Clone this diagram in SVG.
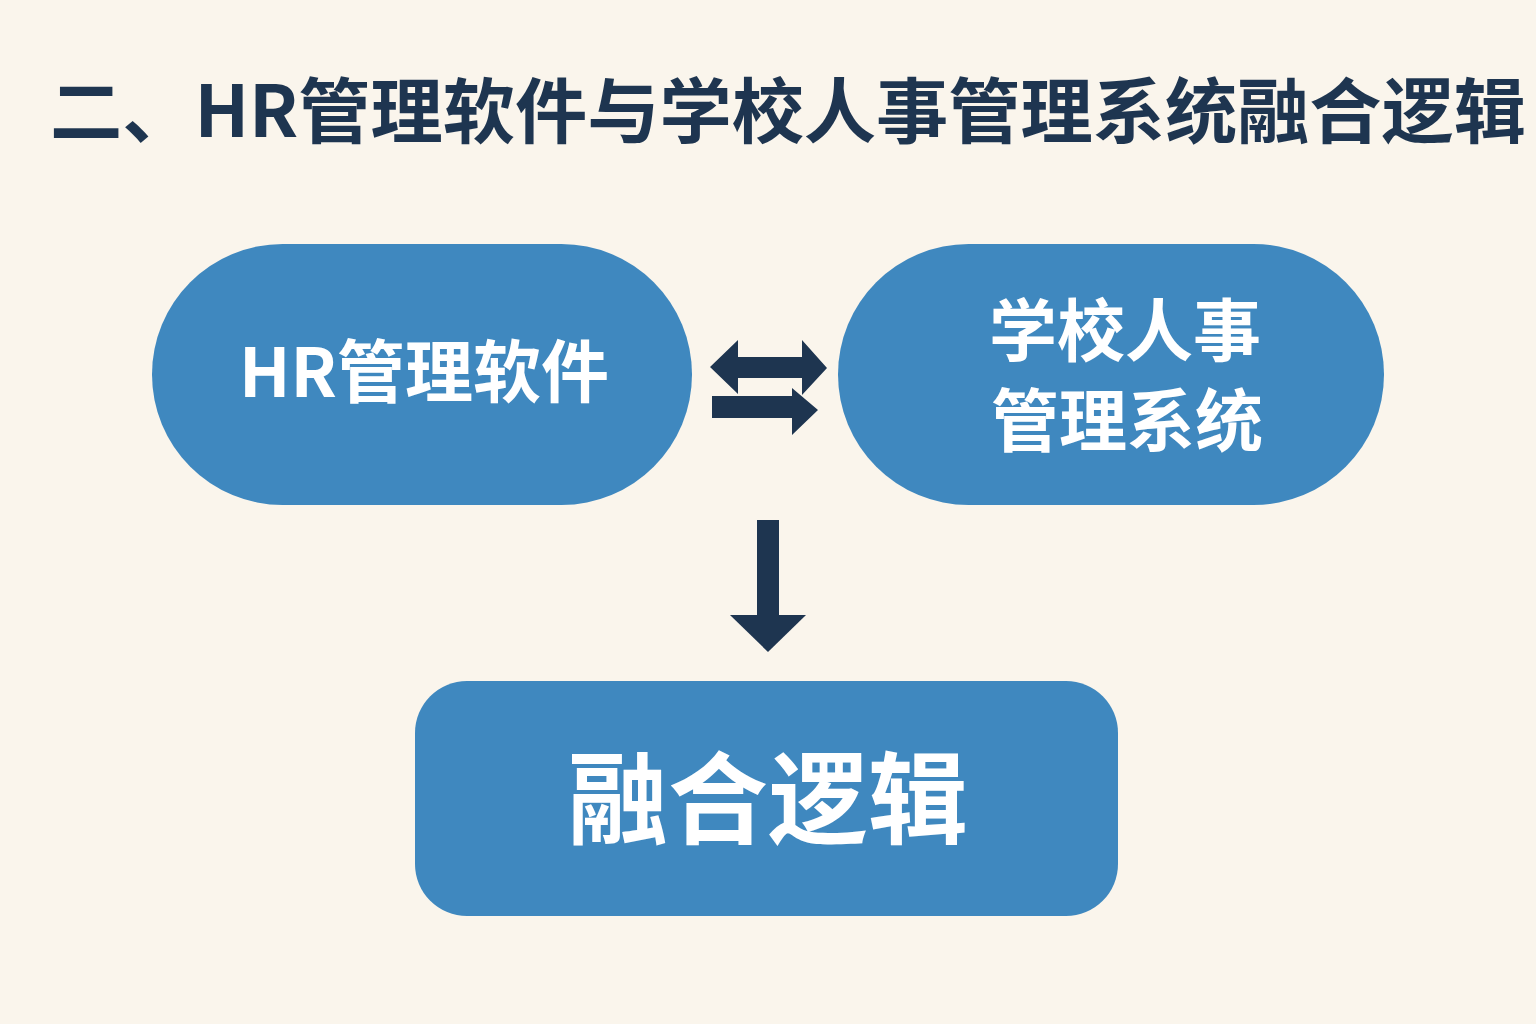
<svg xmlns="http://www.w3.org/2000/svg" width="1536" height="1024" viewBox="0 0 1536 1024">
<style>
.node{fill:#3F88BF}
.nt{fill:#fff;font-family:"Noto Sans CJK SC","Liberation Sans",sans-serif;font-weight:bold;text-anchor:middle}
.ar{fill:#1E3550}
</style>
<rect width="1536" height="1024" fill="#FAF5EC"/>
<text x="788" y="137" font-family="'Noto Sans CJK SC','Liberation Sans',sans-serif" font-weight="bold" font-size="71" fill="#1E3550" text-anchor="middle" textLength="1476" lengthAdjust="spacingAndGlyphs">二、HR管理软件与学校人事管理系统融合逻辑</text>
<g id="hr"><rect class="node" x="152" y="244" width="540" height="261" rx="130.5"/><text class="nt" x="424" y="397" font-size="68">HR管理软件</text></g>
<g id="school"><rect class="node" x="838" y="244" width="546" height="261" rx="130.5"/><text class="nt" x="1125" y="356" font-size="68">学校人事</text><text class="nt" x="1127" y="446" font-size="68">管理系统</text></g>
<g id="fusion"><rect class="node" x="415" y="681" width="703" height="235" rx="52"/><text class="nt" x="768" y="836" font-size="100">融合逻辑</text></g>
<g id="connectors">
<polygon class="ar" points="710,367 738,340 738,357 802,357 802,340 827,368 802,395 802,378 738,378 738,394"/>
<polygon class="ar" points="712,396 792,396 792,388 818,410 792,435 792,418 712,418"/>
<rect class="ar" x="757" y="520" width="22" height="96"/>
<polygon class="ar" points="730,615 806,615 768,652"/>
</g>
</svg>
